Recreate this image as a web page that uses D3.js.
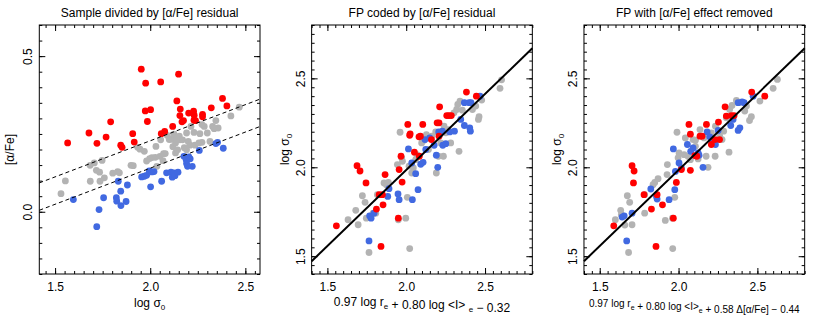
<!DOCTYPE html>
<html>
<head>
<meta charset="utf-8">
<script src="https://cdnjs.cloudflare.com/ajax/libs/d3/7.8.5/d3.min.js"></script>
<style>
body { margin: 0; background: #fff; }
text { font-family: 'Liberation Sans', Arial, sans-serif; }
</style>
</head>
<body>
<svg id="chart" width="817" height="327"></svg>
<script>
// panel 1: log sigma0 vs [alpha/Fe]
var sampleRed = [[1.566,0.221],[1.678,0.253],[1.720,0.220],[1.768,0.240],[1.792,0.289],[1.845,0.214],[1.852,0.207],
  [1.908,0.251],[1.916,0.224],[1.953,0.458],[1.976,0.413],[1.974,0.324],[2.002,0.328],[1.985,0.290],[2.055,0.417],
  [2.058,0.251],[2.076,0.258],[2.118,0.274],[2.149,0.442],[2.140,0.356],[2.158,0.330],[2.156,0.309],[2.167,0.289],
  [2.175,0.293],[2.202,0.317],[2.228,0.323],[2.230,0.294],[2.238,0.293],[2.275,0.313],[2.275,0.305],[2.321,0.334],
  [2.380,0.364],[2.403,0.340],[2.231,0.310]]
var sampleGray = [[1.531,0.058],[1.554,0.099],[1.684,0.149],[1.685,0.098],[1.706,0.157],[1.717,0.133],[1.734,0.127],
  [1.736,0.098],[1.747,0.165],[1.759,0.109],[1.803,0.124],[1.829,0.129],[1.838,0.125],[1.899,0.149],[1.911,0.148],
  [1.934,0.207],[1.946,0.201],[1.969,0.194],[1.981,0.163],[1.997,0.171],[2.009,0.174],[2.027,0.175],[2.035,0.146],
  [2.051,0.178],[2.055,0.231],[2.067,0.164],[2.070,0.187],[2.079,0.187],[2.090,0.245],[2.100,0.232],[2.112,0.233],
  [2.119,0.209],[2.125,0.249],[2.133,0.189],[2.139,0.236],[2.144,0.199],[2.153,0.243],[2.156,0.231],[2.170,0.231],
  [2.179,0.206],[2.191,0.253],[2.200,0.226],[2.209,0.214],[2.214,0.274],[2.230,0.255],[2.235,0.214],[2.256,0.221],
  [2.261,0.251],[2.272,0.223],[2.284,0.274],[2.300,0.253],[2.314,0.226],[2.328,0.274],[2.345,0.293],[2.357,0.269],
  [2.424,0.308],[2.468,0.336],[2.030,0.210],[2.191,0.199],[2.272,0.280],[2.336,0.267],[2.133,0.221]]
var sampleBlue = [[1.596,0.039],[1.719,-0.048],[1.731,0.007],[1.755,0.045],[1.822,0.045],[1.824,0.034],[1.832,0.098],
  [1.845,0.066],[1.846,0.020],[1.873,0.033],[1.880,0.086],[1.955,0.112],[1.969,0.114],[1.981,0.117],[1.995,0.131],
  [2.002,0.080],[2.009,0.128],[2.020,0.129],[2.060,0.098],[2.086,0.125],[2.109,0.127],[2.116,0.111],[2.125,0.125],
  [2.130,0.116],[2.146,0.127],[2.177,0.178],[2.189,0.167],[2.191,0.155],[2.203,0.176],[2.210,0.170],[2.221,0.146],
  [2.258,0.197],[2.345,0.219],[2.354,0.223],[2.384,0.204],[2.196,0.146]]
// dashed dividing lines: y = slope * x + intercept
var cutSlope = 0.232
var cutIntercepts = [-0.324, -0.236]

// panel 2: FP coded by residual
var fpRed = [[1.557,1.671],[1.688,2.009],[1.707,1.979],[1.745,1.912],[1.811,1.765],[1.828,1.846],[1.849,1.846],
  [1.853,1.789],[1.866,1.959],[1.840,1.555],[1.955,1.987],[1.967,2.062],[1.974,1.917],[1.950,1.714],[2.010,2.241],
  [2.025,2.188],[2.052,2.085],[2.083,2.062],[2.081,2.171],[2.090,2.175],[2.105,2.241],[2.160,2.156],[2.196,2.250],
  [2.208,2.250],[2.212,2.340],[2.208,2.175],[2.257,2.291],[2.271,2.291],[2.286,2.291],[2.382,2.423],[2.445,2.400],
  [2.022,2.180]]
var fpGray = [[1.631,1.705],[1.680,1.758],[1.695,1.677],[1.722,1.840],[1.739,1.803],[1.747,1.714],[1.764,1.521],
  [1.790,1.742],[1.807,1.742],[1.817,1.846],[1.859,1.912],[1.874,1.902],[1.887,1.915],[1.944,2.015],[1.961,2.197],
  [1.971,2.053],[1.976,2.034],[1.950,1.705],[1.997,1.714],[2.007,1.831],[2.018,2.006],[2.035,1.968],[2.045,1.996],
  [2.060,2.043],[2.067,2.071],[2.098,2.137],[2.113,2.152],[2.128,2.184],[2.141,2.100],[2.162,2.175],[2.187,2.199],
  [2.191,1.968],[2.204,2.062],[2.219,2.137],[2.236,2.062],[2.240,2.231],[2.251,2.194],[2.265,2.212],[2.282,2.137],
  [2.303,2.306],[2.320,2.325],[2.327,2.353],[2.335,2.090],[2.341,2.372],[2.356,2.321],[2.420,2.325],[2.441,2.344],
  [2.458,2.269],[2.462,2.284],[2.479,2.378],[2.595,2.444],[2.605,2.492],[2.022,1.543]]
var fpBlue = [[1.764,1.586],[1.768,1.727],[1.777,1.714],[1.796,1.742],[1.883,1.836],[1.948,1.850],[1.955,1.818],
  [2.014,2.103],[2.035,2.024],[2.039,1.818],[2.060,1.964],[2.075,1.874],[2.092,2.017],[2.107,2.028],[2.119,2.156],
  [2.124,2.100],[2.149,2.165],[2.177,2.124],[2.191,2.068],[2.200,2.000],[2.206,2.199],[2.229,2.203],[2.232,2.124],
  [2.251,2.133],[2.276,2.199],[2.306,2.203],[2.346,2.269],[2.369,2.363],[2.399,2.363],[2.411,2.363],[2.369,2.235],
  [2.403,2.222],[2.407,2.203],[2.468,2.400],[1.891,1.880]]

// panel 3: FP with [alpha/Fe] effect removed
var fpcRed = [[1.589,1.671],[1.705,2.009],[1.718,1.979],[1.714,1.912],[1.781,1.846],[1.828,1.765],[1.864,1.846],
  [1.898,1.789],[1.857,1.555],[1.986,1.915],[2.018,1.987],[2.075,1.983],[2.066,2.241],[2.075,2.186],[2.103,2.066],
  [2.116,2.062],[2.136,2.175],[2.149,2.175],[2.177,2.241],[2.208,2.128],[2.253,2.254],[2.260,2.156],[2.295,2.340],
  [2.303,2.288],[2.335,2.291],[2.352,2.291],[2.464,2.423],[2.547,2.400],[1.967,1.714],[2.230,2.156]]
var fpcGray = [[1.599,1.705],[1.633,1.758],[1.637,1.733],[1.659,1.675],[1.675,1.840],[1.683,1.521],[1.690,1.803],
  [1.705,1.677],[1.785,1.846],[1.785,1.742],[1.838,1.902],[1.849,1.915],[1.870,1.936],[1.916,1.701],[1.927,1.959],
  [1.929,2.015],[1.961,1.714],[1.963,1.543],[1.976,1.831],[1.990,2.197],[1.997,2.053],[2.003,2.081],[2.035,2.071],
  [2.043,2.165],[2.060,2.062],[2.075,2.043],[2.092,2.156],[2.107,2.152],[2.124,2.047],[2.136,2.212],[2.162,2.165],
  [2.175,2.062],[2.187,2.000],[2.208,2.194],[2.232,2.062],[2.234,2.231],[2.261,2.175],[2.276,2.156],[2.286,2.203],
  [2.303,2.278],[2.320,2.085],[2.324,2.325],[2.339,2.348],[2.367,2.376],[2.382,2.363],[2.420,2.316],[2.431,2.344],
  [2.450,2.263],[2.462,2.284],[2.516,2.372],[2.600,2.444],[2.627,2.494],[2.107,2.118]]
var fpcBlue = [[1.671,1.586],[1.642,1.720],[1.655,1.727],[1.705,1.742],[1.824,1.878],[1.864,1.821],[1.940,1.818],
  [1.976,1.874],[1.980,1.977],[1.967,2.103],[2.003,2.024],[2.018,1.996],[2.056,2.128],[2.077,2.090],[2.092,2.109],
  [2.130,2.068],[2.155,2.000],[2.181,2.199],[2.198,2.171],[2.208,2.156],[2.234,2.128],[2.251,2.207],[2.331,2.235],
  [2.346,2.269],[2.378,2.363],[2.403,2.367],[2.416,2.363],[2.378,2.207],[2.389,2.222],[2.473,2.400],[1.860,1.836],
  [2.124,2.081]]
// fitted plane line in panels 2 and 3
var fpSlope = 0.855
var fpIntercept = 0.275

var fpXTicks = [1.5, 2.0, 2.5]
var fpYTicks = [1.5, 2.0, 2.5]
var sampleXTicks = [1.5, 2.0, 2.5]
var sampleYTicks = [0.0, 0.5]

var RED = '#ff0000', GRAY = '#b3b3b3', BLUE = '#4169e1'
var W = 220.7, H = 249, L = 39.3, T = 25

var svg = d3.select('#chart')

function steps(a, b) {
  // every 0.05 between a and b
  var out = []
  for (var i = Math.ceil(a * 20 - 1e-6); i <= b * 20 + 1e-6; i++) out.push(i / 20)
  return out
}

function panel(ox, o) {
  var g = svg.append('g').attr('transform', 'translate(' + (ox + L) + ',' + T + ')')
  var x = d3.scaleLinear().domain(o.xd).range([0, W])
  var y = d3.scaleLinear().domain(o.yd).range([H, 0])
  var xm = steps(o.xd[0], o.xd[1]), ym = steps(o.yd[0], o.yd[1])

  // points
  o.sets.forEach(function(s) {
    g.append('g').selectAll('circle').data(s[0]).enter().append('circle')
      .attr('cx', function(d) { return x(d[0]) })
      .attr('cy', function(d) { return y(d[1]) })
      .attr('r', 3.4)
      .attr('fill', s[1])
  })

  // lines
  o.lines.forEach(function(ln) {
    var f = function(v) { return ln.m * v + ln.c }
    g.append('line')
      .attr('x1', x(o.xd[0])).attr('y1', y(f(o.xd[0])))
      .attr('x2', x(o.xd[1])).attr('y2', y(f(o.xd[1])))
      .attr('stroke', 'black')
      .attr('stroke-width', ln.dash ? 1 : 2)
      .attr('stroke-dasharray', ln.dash ? '4,3' : null)
  })

  // inward ticks on all four sides
  var ax = [
    [d3.axisBottom(x), 'translate(0,' + H + ')', xm, o.xt],
    [d3.axisTop(x), null, xm, o.xt],
    [d3.axisLeft(y), null, ym, o.yt],
    [d3.axisRight(y), 'translate(' + W + ',0)', ym, o.yt]
  ]
  ax.forEach(function(a) {
    g.append('g').attr('transform', a[1])
      .call(a[0].scale().copy ? a[0].tickValues(a[2]).tickSize(-3).tickFormat('') : a[0])
      .call(function(s) { s.select('.domain').remove() })
    g.append('g').attr('transform', a[1])
      .call(a[0].tickValues(a[3]).tickSize(-6).tickFormat(''))
      .call(function(s) { s.select('.domain').remove() })
  })
  g.selectAll('.tick line').attr('stroke', 'black').attr('stroke-width', 1)

  // tick labels
  var bx = g.append('g').attr('transform', 'translate(0,' + H + ')')
    .call(d3.axisBottom(x).tickValues(o.xt).tickSize(0).tickPadding(8).tickFormat(d3.format('.1f')))
  bx.select('.domain').remove()
  bx.selectAll('text').attr('font-size', 12).attr('font-family', "'Liberation Sans', Arial, sans-serif").attr('fill', '#000')

  var ly = g.append('g')
    .call(d3.axisLeft(y).tickValues(o.yt).tickSize(0).tickFormat(d3.format('.1f')))
  ly.select('.domain').remove()
  ly.selectAll('text')
    .attr('x', null).attr('dy', null)
    .attr('transform', 'translate(-7,0) rotate(-90)')
    .attr('text-anchor', 'middle')
    .attr('font-size', 12).attr('font-family', "'Liberation Sans', Arial, sans-serif").attr('fill', '#000')

  g.append('rect').attr('width', W).attr('height', H)
    .attr('fill', 'none').attr('stroke', 'black').attr('stroke-width', 1)

  // title
  g.append('text').attr('x', W / 2).attr('y', -8.5)
    .attr('text-anchor', 'middle').attr('font-size', 12).text(o.title)

  // y label
  var yl = g.append('text').attr('transform', 'translate(' + o.ylx + ',' + (H / 2) + ') rotate(-90)')
    .attr('text-anchor', 'middle').attr('font-size', 12)
  o.ylab(yl)

  var xl = g.append('text').attr('x', W / 2).attr('y', o.xly)
    .attr('text-anchor', 'middle').attr('font-size', o.xfs)
  o.xlab(xl)
}

function sub(t, s, fs) {
  t.append('tspan').attr('font-size', fs).attr('dy', 3).text(s)
  t.append('tspan').attr('dy', -3).text('')
}

function sigmaLabel(t) {
  t.append('tspan').text('log \u03c3')
  t.append('tspan').attr('font-size', 8).attr('dy', 3).text('0')
}

panel(0, {
  xd: [1.417, 2.577], yd: [-0.2, 0.6], xt: sampleXTicks, yt: sampleYTicks,
  sets: [[sampleGray, GRAY], [sampleBlue, BLUE], [sampleRed, RED]],
  lines: cutIntercepts.map(function(c) { return { m: cutSlope, c: c, dash: true } }),
  title: 'Sample divided by [\u03b1/Fe] residual',
  ylx: -25, ylab: function(t) { t.text('[\u03b1/Fe]') },
  xly: 282, xfs: 12, xlab: sigmaLabel
})

panel(272.33, {
  xd: [1.4, 2.8], yd: [1.4, 2.8], xt: fpXTicks, yt: fpYTicks,
  sets: [[fpGray, GRAY], [fpBlue, BLUE], [fpRed, RED]],
  lines: [{ m: fpSlope, c: fpIntercept }],
  title: 'FP coded by [\u03b1/Fe] residual',
  ylx: -23, ylab: sigmaLabel,
  xly: 281, xfs: 12, xlab: function(t) {
    t.append('tspan').text('0.97 log r')
    sub(t, 'e', 8)
    t.append('tspan').text(' + 0.80 log <I> ')
    sub(t, 'e', 8)
    t.append('tspan').text(' \u2212 0.32')
  }
})

panel(544.67, {
  xd: [1.4, 2.8], yd: [1.4, 2.8], xt: fpXTicks, yt: fpYTicks,
  sets: [[fpcGray, GRAY], [fpcBlue, BLUE], [fpcRed, RED]],
  lines: [{ m: fpSlope, c: fpIntercept }],
  title: 'FP with [\u03b1/Fe] effect removed',
  ylx: -23, ylab: sigmaLabel,
  xly: 282, xfs: 10, xlab: function(t) {
    t.append('tspan').text('0.97 log r')
    sub(t, 'e', 7)
    t.append('tspan').text(' + 0.80 log <I>')
    sub(t, 'e', 7)
    t.append('tspan').text(' + 0.58 \u0394[\u03b1/Fe] \u2212 0.44')
  }
})
</script>
</body>
</html>
